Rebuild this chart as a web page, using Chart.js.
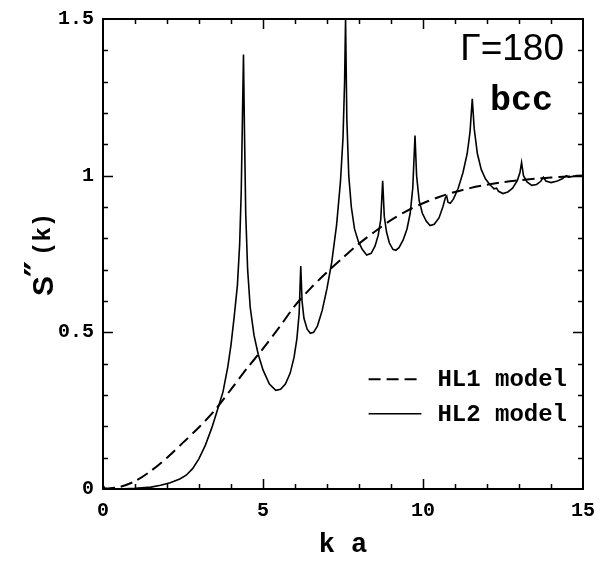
<!DOCTYPE html>
<html>
<head>
<meta charset="utf-8">
<script src="https://cdn.jsdelivr.net/npm/chart.js@4/dist/chart.umd.min.js"></script>
<style>
  html, body { margin: 0; padding: 0; background: #fff; }
  #wrap { width: 611px; height: 561px; position: relative; }
</style>
</head>
<body>
<div id="wrap"><canvas id="chart"></canvas></div>
<script>
// HL1 model (dashed, smooth)
const hl1X = [0, 0.5, 1, 1.5, 2, 2.5, 3, 3.5, 4, 4.5, 5, 5.5, 6, 6.5, 7, 7.5, 8, 8.5, 9, 9.5,
  10, 10.5, 11, 11.5, 12, 12.5, 13, 13.5, 14, 14.5, 15];
const hl1Y = [0, 0.006, 0.025, 0.058, 0.1, 0.148, 0.197, 0.252, 0.318, 0.385, 0.448, 0.515, 0.585, 0.642, 0.692, 0.738, 0.783, 0.822, 0.858, 0.888,
  0.912, 0.932, 0.948, 0.961, 0.971, 0.979, 0.985, 0.99, 0.994, 0.997, 1.0];

// HL2 model (solid, with Bragg-like peaks)
const hl2X = [0, 0.05, 0.15, 0.5, 1, 1.5, 1.8, 2.1, 2.4, 2.6, 2.8, 3, 3.2, 3.4, 3.6, 3.75, 3.9, 4, 4.1, 4.2,
  4.27, 4.32, 4.36, 4.39, 4.42, 4.46, 4.52, 4.6, 4.72, 4.85, 5, 5.2, 5.4, 5.55, 5.7, 5.85, 5.97, 6.06, 6.13, 6.18,
  6.22, 6.28, 6.38, 6.48, 6.58, 6.7, 6.85, 7, 7.15, 7.3, 7.42, 7.5, 7.55, 7.58, 7.62, 7.68, 7.76, 7.86, 7.98, 8.1,
  8.24, 8.38, 8.5, 8.6, 8.68, 8.74, 8.79, 8.86, 8.95, 9.06, 9.15, 9.25, 9.38, 9.5, 9.6, 9.68, 9.75, 9.8, 9.88, 9.98,
  10.1, 10.22, 10.35, 10.5, 10.62, 10.7, 10.74, 10.78, 10.85, 10.95, 11.1, 11.25, 11.38, 11.47, 11.54, 11.6, 11.7, 11.82, 11.95, 12.1,
  12.22, 12.3, 12.36, 12.5, 12.65, 12.8, 12.95, 13.03, 13.08, 13.14, 13.25, 13.4, 13.55, 13.68, 13.76, 13.84, 14, 14.2, 14.35, 14.48,
  14.55, 14.65, 14.8, 15];
const hl2Y = [0.012, 0.003, 0, 0, 0.002, 0.006, 0.012, 0.02, 0.032, 0.044, 0.065, 0.097, 0.14, 0.195, 0.26, 0.31, 0.39, 0.46, 0.55, 0.65,
  0.78, 0.95, 1.2, 1.387, 1.15, 0.88, 0.7, 0.58, 0.49, 0.43, 0.38, 0.335, 0.315, 0.318, 0.335, 0.37, 0.42, 0.48, 0.56, 0.712,
  0.6, 0.545, 0.51, 0.497, 0.5, 0.52, 0.57, 0.64, 0.725, 0.843, 0.98, 1.12, 1.3, 1.5, 1.18, 1.0, 0.9, 0.83, 0.79, 0.765,
  0.747, 0.752, 0.775, 0.81, 0.86, 0.984, 0.87, 0.82, 0.785, 0.765, 0.762, 0.77, 0.795, 0.83, 0.88, 0.96, 1.128, 1.0, 0.92, 0.88,
  0.855, 0.841, 0.845, 0.865, 0.9, 0.93, 0.935, 0.915, 0.912, 0.925, 0.96, 1.01, 1.07, 1.14, 1.245, 1.15, 1.07, 1.02, 0.99, 0.97,
  0.958, 0.96, 0.95, 0.943, 0.948, 0.96, 0.985, 1.01, 1.042, 1.0, 0.98, 0.969, 0.972, 0.982, 0.995, 0.983, 0.978, 0.983, 0.99, 1.0,
  0.995, 0.997, 1.0, 1.0];

const xTicks = [0, 5, 10, 15];
const yTicks = [0, 0.5, 1, 1.5];
const seriesNames = ['HL1 model', 'HL2 model'];

const toPoints = (xs, ys) => xs.map((x, i) => ({ x: x, y: ys[i] }));

// frame, inward ticks, legend, labels
const decor = {
  id: 'decor',
  afterDraw(chart) {
    const { ctx, chartArea: a, scales: { x, y } } = chart;
    ctx.save();
    ctx.strokeStyle = '#000';
    ctx.fillStyle = '#000';

    ctx.lineWidth = 1.5;
    ctx.beginPath();
    for (let v = 1; v < 15; v++) {
      const px = Math.round(x.getPixelForValue(v)) + 0.5;
      const len = v % 5 === 0 ? 10 : 5;
      ctx.moveTo(px, a.bottom); ctx.lineTo(px, a.bottom - len);
      ctx.moveTo(px, a.top); ctx.lineTo(px, a.top + len);
    }
    for (let i = 1; i < 15; i++) {
      const py = Math.round(y.getPixelForValue(i / 10)) + 0.5;
      const len = i % 5 === 0 ? 10 : 5;
      ctx.moveTo(a.left, py); ctx.lineTo(a.left + len, py);
      ctx.moveTo(a.right, py); ctx.lineTo(a.right - len, py);
    }
    ctx.stroke();

    ctx.lineWidth = 2;
    ctx.strokeRect(a.left, a.top, a.right - a.left, a.bottom - a.top);

    // legend
    const ds = chart.data.datasets;
    const lx0 = x.getPixelForValue(8.3), lx1 = x.getPixelForValue(9.95), tx = x.getPixelForValue(10.45);
    [0.35, 0.24].forEach((yv, i) => {
      const py = y.getPixelForValue(yv);
      ctx.lineWidth = ds[i].borderWidth;
      ctx.setLineDash(ds[i].borderDash || []);
      ctx.beginPath();
      ctx.moveTo(lx0, py); ctx.lineTo(lx1, py);
      ctx.stroke();
      ctx.setLineDash([]);
      ctx.font = 'bold 24px "Liberation Mono"';
      ctx.textAlign = 'left';
      ctx.textBaseline = 'middle';
      ctx.fillText(seriesNames[i], tx, py + 1);
    });

    // annotations
    ctx.textAlign = 'right';
    ctx.textBaseline = 'alphabetic';
    ctx.font = '37px "Liberation Sans"';
    ctx.fillText('\u0393=180', 564, 60);
    ctx.font = 'bold 35px "Liberation Mono"';
    ctx.fillText('bcc', 553, 110);

    // y axis title S''(k)
    ctx.translate(45, (a.top + a.bottom) / 2);
    ctx.rotate(-Math.PI / 2);
    ctx.textAlign = 'left';
    ctx.font = 'bold 30px "Liberation Sans"';
    ctx.fillText('S', -42, 8);
    ctx.font = 'bold 36px "DejaVu Sans"';
    ctx.fillText('\u2033', -23, 5);
    ctx.font = 'bold 24px "Liberation Mono"';
    ctx.fillText('(k)', -2, 5);
    ctx.restore();
  }
};

new Chart(document.getElementById('chart'), {
  type: 'line',
  data: {
    datasets: [
      {
        label: seriesNames[0],
        data: toPoints(hl1X, hl1Y),
        borderColor: '#000',
        borderWidth: 2,
        borderDash: [12, 6],
        pointRadius: 0,
        tension: 0.3,
        fill: false
      },
      {
        label: seriesNames[1],
        data: toPoints(hl2X, hl2Y),
        borderColor: '#000',
        borderWidth: 1.6,
        pointRadius: 0,
        tension: 0,
        fill: false
      }
    ]
  },
  options: {
    responsive: true,
    maintainAspectRatio: false,
    animation: false,
    layout: { padding: { top: 10.5, right: 28, left: 0, bottom: 0 } },
    plugins: { legend: { display: false }, tooltip: { enabled: false } },
    scales: {
      x: {
        type: 'linear',
        min: 0,
        max: 15,
        afterBuildTicks: s => { s.ticks = xTicks.map(v => ({ value: v })); },
        afterFit: s => { s.height = 72; },
        grid: { display: false, drawTicks: false },
        border: { display: false },
        ticks: {
          color: '#000',
          padding: 12,
          maxRotation: 0,
          font: { family: 'Liberation Mono', size: 20, weight: 'bold', lineHeight: 1 }
        },
        title: {
          display: true,
          text: 'k a',
          color: '#000',
          padding: { top: 0, bottom: 0 },
          font: { family: 'Liberation Mono', size: 27, weight: 'bold', lineHeight: 1.2 }
        }
      },
      y: {
        type: 'linear',
        min: 0,
        max: 1.5,
        afterBuildTicks: s => { s.ticks = yTicks.map(v => ({ value: v })); },
        afterFit: s => { s.width = 103; },
        grid: { display: false, drawTicks: false },
        border: { display: false },
        ticks: {
          color: '#000',
          padding: 9,
          callback: v => String(v),
          font: { family: 'Liberation Mono', size: 20, weight: 'bold', lineHeight: 1 }
        }
      }
    }
  },
  plugins: [decor]
});
</script>
</body>
</html>
